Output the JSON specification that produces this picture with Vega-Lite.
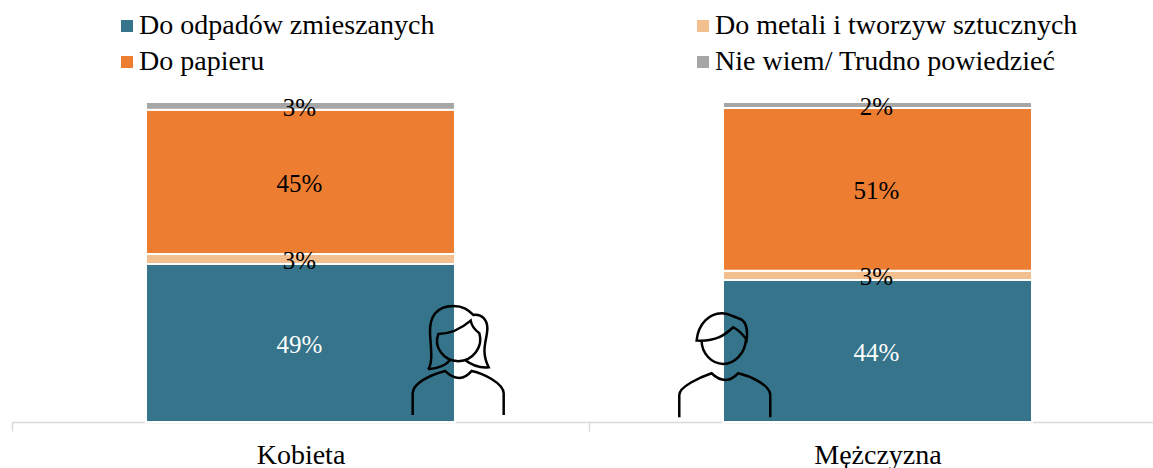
{
"$schema":"https://vega.github.io/schema/vega-lite/v6.json",
"width":1141,"height":320,
"autosize":{"type":"none"},
"padding":{"left":12,"top":102,"right":0,"bottom":46},
"background":"white",
"config":{"view":{"stroke":null},"font":"Liberation Serif"},
"layer":[
{
"data":{"values":[
{"plec":"Kobieta","odp":"Do odpadów zmieszanych","v":49.4,"ord":1,"etykieta":"49%"},
{"plec":"Kobieta","odp":"Do metali i tworzyw sztucznych","v":3.1,"ord":2,"etykieta":"3%"},
{"plec":"Kobieta","odp":"Do papieru","v":45.1,"ord":3,"etykieta":"45%"},
{"plec":"Kobieta","odp":"Nie wiem/ Trudno powiedzieć","v":2.4,"ord":4,"etykieta":"3%"},
{"plec":"Mężczyzna","odp":"Do odpadów zmieszanych","v":44.4,"ord":1,"etykieta":"44%"},
{"plec":"Mężczyzna","odp":"Do metali i tworzyw sztucznych","v":2.9,"ord":2,"etykieta":"3%"},
{"plec":"Mężczyzna","odp":"Do papieru","v":50.8,"ord":3,"etykieta":"51%"},
{"plec":"Mężczyzna","odp":"Nie wiem/ Trudno powiedzieć","v":1.9,"ord":4,"etykieta":"2%"}
]},
"encoding":{
"x":{"field":"plec","type":"nominal","scale":{"range":[0,1154],"paddingInner":0,"paddingOuter":0},
"axis":{"title":null,"labelAngle":0,"labelFont":"Liberation Serif","labelFontSize":28,"labelColor":"#000000","labelPadding":10,"domainColor":"#D9D9D9","domainWidth":1.5,"tickColor":"#D9D9D9","tickWidth":1.5,"tickSize":9,"tickBand":"extent","grid":false}},
"order":{"field":"ord","type":"ordinal"}
},
"layer":[
{"mark":{"type":"bar","stroke":"white","strokeWidth":2,"width":{"band":0.5355}},
"encoding":{
"y":{"field":"v","type":"quantitative","stack":"zero","scale":{"domain":[0,100]},"axis":null},
"color":{"field":"odp","type":"nominal","sort":null,
"scale":{"domain":["Do odpadów zmieszanych","Do metali i tworzyw sztucznych","Do papieru","Nie wiem/ Trudno powiedzieć"],"range":["#35748A","#F4BF8E","#ED7D31","#A6A6A6"]},
"legend":{"title":null,"orient":"none","legendX":101,"legendY":-90,"columns":2,"columnPadding":254,"rowPadding":8,"padding":0,"symbolType":"square","symbolSize":144,"symbolStrokeWidth":0,"labelFont":"Liberation Serif","labelFontSize":28,"labelColor":"#000000","labelLimit":500,"labelOffset":-2,
"values":["Do odpadów zmieszanych","Do papieru","Do metali i tworzyw sztucznych","Nie wiem/ Trudno powiedzieć"]}}
}},
{"mark":{"type":"text","font":"Liberation Serif","fontSize":25,"dx":-1,"dy":2},
"encoding":{
"y":{"field":"v","type":"quantitative","stack":"zero","bandPosition":0.5},
"detail":{"field":"odp"},
"text":{"field":"etykieta","type":"nominal"},
"color":{"condition":{"test":"datum.ord==1","value":"white"},"value":"black"}
}}
]
},
{
"data":{"values":[{"ikona":"kobieta","px":0.773,"py":19.4}]},
"mark":{"type":"point","filled":false,"stroke":"black","strokeWidth":2.5,"opacity":1,"size":0.4444,
"shape":"M-90 28C-74 10-82-40-84-80C-86-130-64-162-14-162C16-162 31-150 46-135C71-140 88-120 88-95C88-60 66-30 92 22C66 25 41 15 21 0M-90 28C-70 26-40 22-24 0M-59-78C-24-78 11-95 38-118C41-100 51-90 64-80C76-40 46 2 1 4C-44 4-74-40-59-78ZM-136 165V100C-136 70-84 45-39 33C-24 48-9 54 4 54C16 54 31 45 41 33C76 40 136 70 137 100V165"},
"encoding":{
"x":{"field":"px","type":"quantitative","scale":{"domain":[0,2],"range":[0,1154]},"axis":null},
"y":{"field":"py","type":"quantitative","scale":{"domain":[0,100]},"axis":null}
}
},
{
"data":{"values":[{"ikona":"mezczyzna","px":1.2327,"py":19.4}]},
"mark":{"type":"point","filled":false,"stroke":"black","strokeWidth":2.5,"opacity":1,"size":0.4444,
"shape":"M-65-58C-65-20-35 12 0 12C35 12 65-20 68-60M-80-58C-75-110-40-140-5-140C15-140 30-130 45-125C65-120 75-100 70-60C60-75 45-90 30-98C5-75-20-55-80-58ZM-132 172V105C-132 80-70 52-35 40C-20 55-5 60 8 60C20 60 35 50 45 40C80 48 140 75 141 105V172"},
"encoding":{
"x":{"field":"px","type":"quantitative","scale":{"domain":[0,2],"range":[0,1154]},"axis":null},
"y":{"field":"py","type":"quantitative","scale":{"domain":[0,100]},"axis":null}
}
}
],
"resolve":{"scale":{"x":"independent","y":"independent","color":"independent"}}
}
